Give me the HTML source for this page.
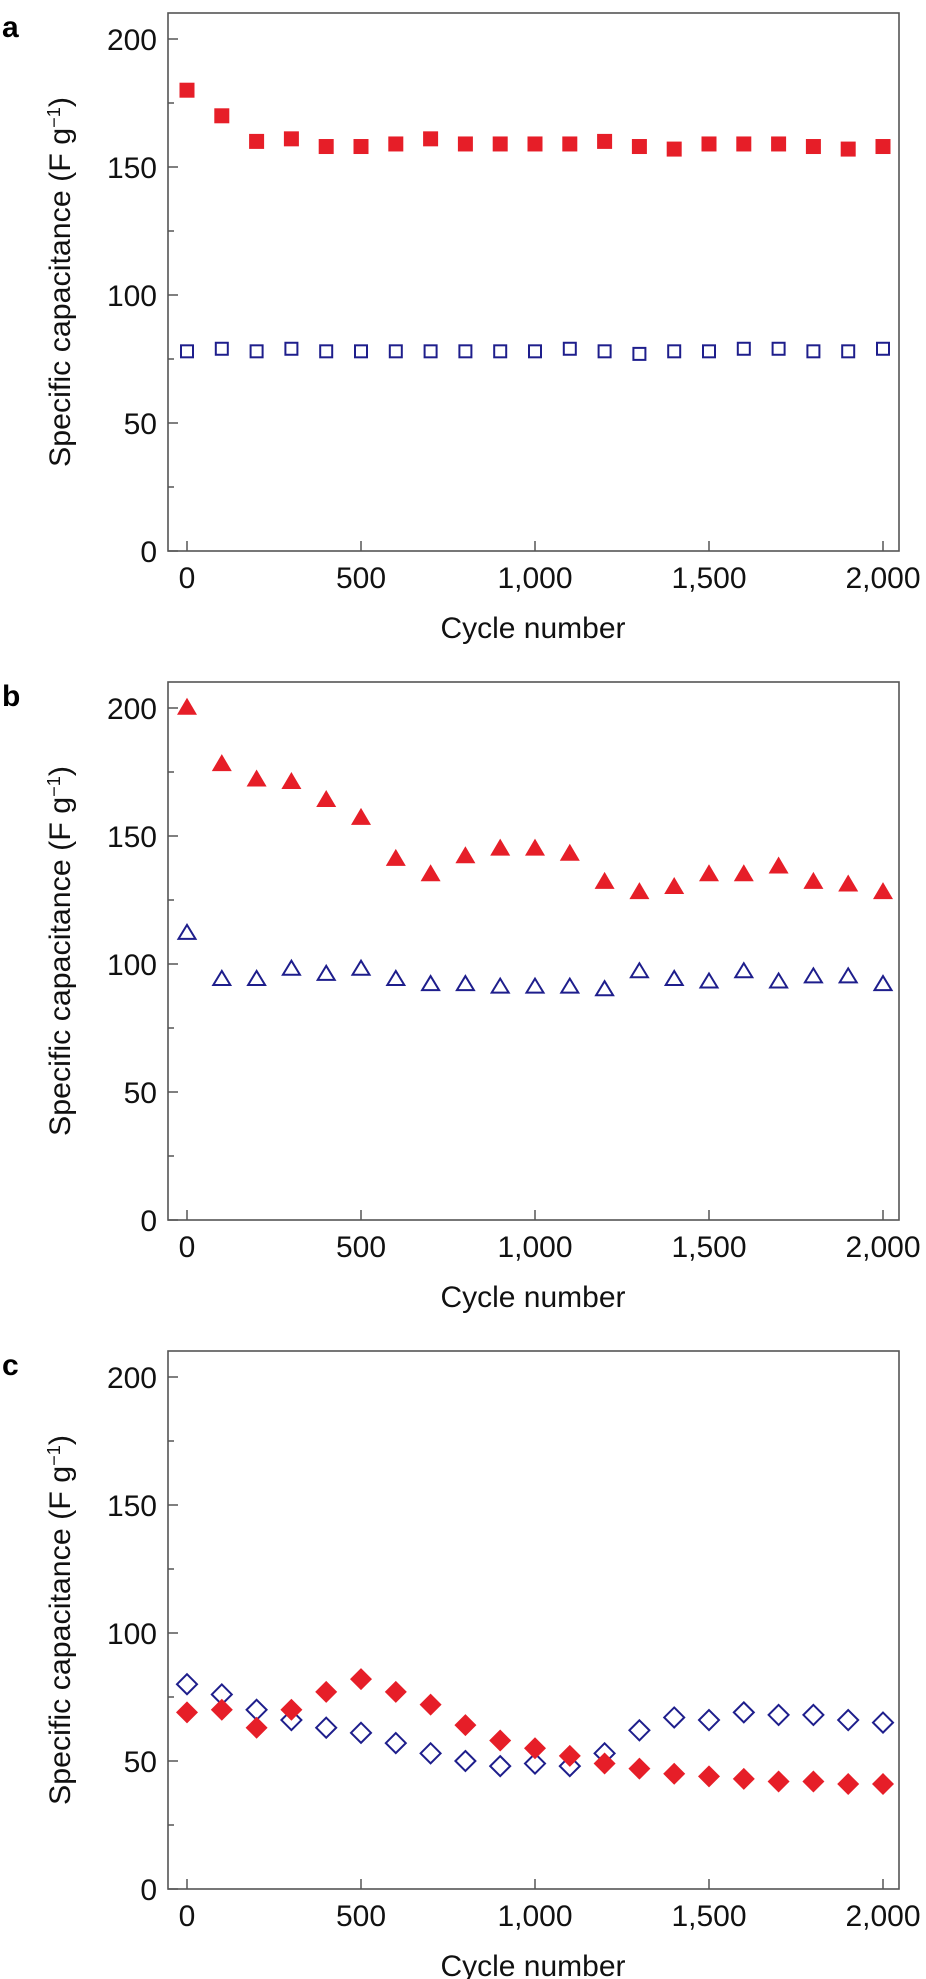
<!DOCTYPE html>
<html><head><meta charset="utf-8"><style>
html,body{margin:0;padding:0;background:#fff;}
svg{display:block;font-family:"Liberation Sans",sans-serif;}
</style></head><body>
<svg id="chart" width="926" height="1979" viewBox="0 0 926 1979"></svg>
<script>
const cycles=[0,100,200,300,400,500,600,700,800,900,1000,1100,1200,1300,1400,1500,1600,1700,1800,1900,2000];
const aRed=[180,170,160,161,158,158,159,161,159,159,159,159,160,158,157,159,159,159,158,157,158];
const aBlue=[78,79,78,79,78,78,78,78,78,78,78,79,78,77,78,78,79,79,78,78,79];
const bRed=[200,178,172,171,164,157,141,135,142,145,145,143,132,128,130,135,135,138,132,131,128];
const bBlue=[112,94,94,98,96,98,94,92,92,91,91,91,90,97,94,93,97,93,95,95,92];
const cRed=[69,70,63,70,77,82,77,72,64,58,55,52,49,47,45,44,43,42,42,41,41];
const cBlue=[80,76,70,66,63,61,57,53,50,48,49,48,53,62,67,66,69,68,68,66,65];
const yTicks=[0,50,100,150,200];
const yMinor=[25,75,125,175];
const xTicks=[0,500,1000,1500,2000];
const xTickLabels=["0","500","1,000","1,500","2,000"];

const NS="http://www.w3.org/2000/svg";
const svg=document.getElementById('chart');
const RED="#e61e28",BLUE="#1e1e8c",AX="#555";
function mk(tag,attrs,parent){const e=document.createElementNS(NS,tag);for(const k in attrs)e.setAttribute(k,attrs[k]);(parent||svg).appendChild(e);return e;}
const L=168,R=899,H=538;
function xs(v){return 187+v*0.348;}
const panels=[
 {top:13,label:"a",red:aRed,blue:aBlue,shape:"square"},
 {top:682,label:"b",red:bRed,blue:bBlue,shape:"triangle"},
 {top:1351,label:"c",red:cRed,blue:cBlue,shape:"diamond"}
];
function marker(g,shape,x,y,filled){
  let e;
  const st=filled?{fill:RED,stroke:"none"}:{fill:"none",stroke:BLUE,"stroke-width":2};
  if(shape==="square"){const s=filled?15:12;e=mk('rect',Object.assign({x:x-s/2,y:y-s/2,width:s,height:s},st),g);}
  else if(shape==="triangle"){const w=filled?20:17,h=filled?17:14;e=mk('polygon',Object.assign({points:`${x},${y-h*0.6} ${x-w/2},${y+h*0.4} ${x+w/2},${y+h*0.4}`},st),g);}
  else{const r=filled?11:10;e=mk('polygon',Object.assign({points:`${x},${y-r} ${x+r},${y} ${x},${y+r} ${x-r},${y}`},st),g);}
  return e;
}
panels.forEach(p=>{
  const bot=p.top+H;
  const ys=v=>bot-v*2.56;
  const g=mk('g',{});
  
  
  const lab=mk('text',{x:2,y:p.top+24,"font-size":30,"font-weight":"bold",fill:"#000"},g);
  lab.textContent=p.label;
  
  
  const box=mk('rect',{x:L,y:p.top,width:R-L,height:H,fill:"none",stroke:AX,"stroke-width":1.6},g);
  
  
  yTicks.forEach(v=>{
    mk('line',{x1:L,x2:L+10,y1:ys(v),y2:ys(v),stroke:AX,"stroke-width":1.5},g);
    const t=mk('text',{x:157,y:ys(v)+11,"font-size":30,"text-anchor":"end",fill:"#111"},g);
    t.textContent=v;
    
    
  });
  yMinor.forEach(v=>{mk('line',{x1:L,x2:L+6,y1:ys(v),y2:ys(v),stroke:AX,"stroke-width":1.5},g);});
  xTicks.forEach((v,i)=>{
    mk('line',{x1:xs(v),x2:xs(v),y1:bot,y2:bot-10,stroke:AX,"stroke-width":1.5},g);
    const t=mk('text',{x:xs(v),y:bot+37,"font-size":30,"text-anchor":"middle",fill:"#111"},g);
    t.textContent=xTickLabels[i];
    
    
  });
  const xt=mk('text',{x:533,y:bot+87,"font-size":30,"text-anchor":"middle",fill:"#111"},g);
  xt.textContent="Cycle number";
  
  
  const cy=p.top+H/2;
  const yt=mk('text',{x:0,y:0,"font-size":30,"text-anchor":"middle",fill:"#111",transform:`translate(70,${cy}) rotate(-90)`,textLength:370,lengthAdjust:"spacingAndGlyphs"},g);
  yt.innerHTML='Specific capacitance (F g<tspan baseline-shift="super" font-size="18">−1</tspan>)';
  
  
  p.blue.forEach((v,i)=>{
    const m=marker(g,p.shape,xs(cycles[i]),ys(v),false);
    
    
  });
  p.red.forEach((v,i)=>{
    const m=marker(g,p.shape,xs(cycles[i]),ys(v),true);
    
    
  });
});
</script>
</body></html>
